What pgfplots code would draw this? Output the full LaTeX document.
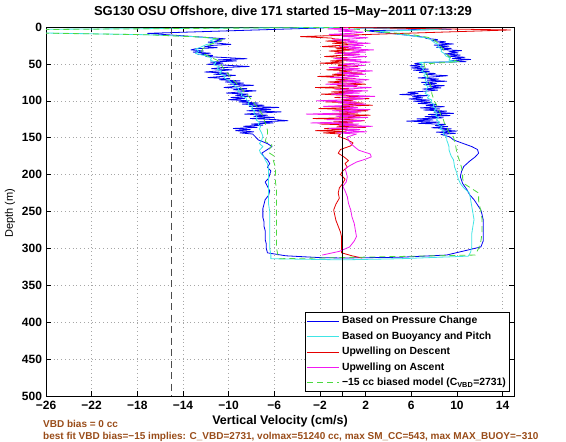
\documentclass[border=0pt]{standalone}
\usepackage{fontspec}
\setmainfont{Liberation Sans}
\usepackage{pgfplots}
\pgfplotsset{compat=1.18}
\definecolor{cBlue}{rgb}{0.0,0.0,0.95}
\definecolor{cCyan}{rgb}{0.25,0.9,0.9}
\definecolor{cRed}{rgb}{0.9,0.0,0.0}
\definecolor{cMag}{rgb}{0.95,0.1,0.95}
\definecolor{cGreen}{rgb}{0.3,0.85,0.25}
\definecolor{cBrown}{rgb}{0.6,0.3,0.1}
\begin{document}
\begin{tikzpicture}[x=1pt,y=1pt]
\useasboundingbox (-46,-46) rectangle (520,396);
\begin{axis}[
  at={(0,0)}, anchor=south west,
  scale only axis, width=468pt, height=369pt,
  xmin=-26, xmax=15, ymin=0, ymax=500, y dir=reverse,
  xtick={-26,-22,-18,-14,-10,-6,-2,2,6,10,14},
  xticklabels={−26,−22,−18,−14,−10,−6,−2,2,6,10,14},
  ytick={0,50,100,150,200,250,300,350,400,450,500},
  yticklabels={0,50,100,150,200,250,300,350,400,450,500},
  tick label style={font=\bfseries\fontsize{12}{14}\selectfont},
  xticklabel style={yshift=-1.5pt},
  yticklabel style={xshift=-0.5pt},
  tick align=inside, major tick length=5pt,
  every tick/.style={black, line width=0.6pt},
  axis line style={line width=0.8pt},
  grid=major,
  major grid style={gray!70, line width=0.5pt, dash pattern=on 0.8pt off 3pt},
  clip=true,
  legend cell align=left,
  legend style={at={(0.991,0.011)}, anchor=south east,
    font=\bfseries\fontsize{10.4}{12}\selectfont,
    line width=0.7pt, inner sep=1pt,
    nodes={text height=7.5pt, text depth=2.2pt, inner ysep=2.85pt, inner xsep=2.5pt}},
  legend image code/.code={\draw[#1, line width=1pt] (0pt,0pt) -- (32pt,0pt);},
  every axis plot/.append style={line width=0.8pt, line join=round},
]
% Based on Pressure Change
\addplot[cBlue] coordinates {
(-0.3,0.5) (-17.1,8.6) (-14.9,11) (-12.5,13.5) (-10.3,16)
(-11.2,17.5) (-10.6,19) (-11.8,20.5) (-10.9,22) (-9.8,23.5) (-11.5,25) (-12.1,26.5) (-11.0,28) (-12.9,29.5)
(-13.3,31) (-12.2,32.5) (-13.1,34) (-11.6,35.5) (-12.7,37) (-11.4,38.5) (-12.0,40) (-10.2,41.5) (-8.4,43)
(-10.9,44.5) (-9.3,46) (-11.6,47.5) (-10.5,49) (-11.9,50.5) (-10.0,52) (-8.2,53.5) (-10.6,55) (-11.5,56.5)
(-9.7,58) (-10.9,59.5) (-12.1,61) (-10.0,62.5) (-11.3,64) (-9.4,65.5) (-10.6,67) (-11.8,68.5) (-9.9,70)
(-10.8,71.5) (-9.0,73) (-10.3,74.5) (-8.7,76) (-9.9,77.5) (-7.8,79) (-9.5,80.5) (-10.4,82) (-8.4,83.5)
(-9.6,85) (-7.6,86.5) (-9.0,88) (-10.2,89.5) (-8.3,91) (-9.4,92.5) (-8.0,94) (-9.8,95.5) (-8.6,97) (-10.0,98.5)
(-8.2,100) (-9.1,101.5) (-7.4,103) (-8.8,104.5) (-6.9,106) (-8.2,107.5) (-5.6,109) (-7.9,110.5) (-6.3,112)
(-8.4,113.5) (-5.4,115) (-7.2,116.5) (-8.6,118) (-6.6,119.5) (-7.8,121) (-6.0,122.5) (-8.1,124) (-5.9,125.5)
(-4.8,127) (-7.3,128.5) (-6.1,130) (-8.0,131.5) (-7.0,133) (-8.7,134.5) (-7.5,136) (-9.6,137.5) (-8.1,139)
(-9.4,140.5) (-7.8,142) (-9.0,143.5) (-7.9,145)
(-7.7,148) (-7.4,153) (-6.6,158) (-6.2,162) (-6.6,166) (-7.1,171) (-6.9,176) (-6.6,180) (-6.4,185) (-6.6,190)
(-6.3,195) (-6.4,200) (-6.5,205) (-6.8,210) (-6.6,216) (-6.4,222) (-6.5,228) (-6.8,234) (-6.9,240) (-7.0,246)
(-7.0,252) (-7.0,258) (-6.9,264) (-6.9,270) (-6.8,276) (-6.8,282) (-6.8,288) (-6.7,294) (-6.7,300) (-6.6,306)
(-5.0,310) (-2,312.5) (0,313) (5,312) (9.1,309)
(12.1,298) (12.3,290) (12.3,280) (12.3,270) (12.3,261) (12.2,254) (12.1,248) (11.8,241) (11.5,234) (11.1,227)
(10.9,221) (10.5,212) (10.3,203) (10.4,196) (10.6,189) (11.1,182) (11.6,176) (11.9,171) (11.8,166) (11.3,162)
(10.4,157) (9.7,153) (9.4,149)
(8.6,145.5) (9.9,144) (8.2,142.5) (10.0,141) (8.7,139.5) (9.5,138) (7.8,136.5) (9.2,135) (8.1,133.5) (9.0,132)
(6.6,130.5) (8.4,129) (5.6,127.5) (7.9,126) (6.5,124.5) (8.8,123) (7.2,121.5) (9.4,120) (7.5,118.5) (9.7,117)
(8.0,115.5) (9.1,114) (7.1,112.5) (8.5,111) (6.8,109.5) (8.9,108) (7.3,106.5) (8.2,105) (6.6,103.5) (7.8,102)
(6.2,100.5) (7.6,99) (5.8,97.5) (7.0,96) (6.1,94.5) (7.4,93) (5.0,91.5) (6.6,90) (5.7,88.5) (7.2,87) (8.3,85.5)
(7.0,84) (8.6,82.5) (7.6,81) (8.9,79.5) (7.1,78) (8.2,76.5) (6.9,75) (9.1,73.5) (7.4,72) (8.4,70.5) (6.6,69)
(8.0,67.5) (9.2,66) (7.3,64.5) (8.1,63) (6.7,61.5) (7.6,60) (6.2,58.5) (7.5,57) (6.0,55.5) (7.1,54) (5.9,52.5)
(6.9,51) (6.3,49.5) (7.0,48) (10.8,47) (9.4,45.5) (11.2,44) (9.6,42.5) (10.7,41) (9.2,39.5) (10.3,38) (8.9,36.5)
(10.1,35) (9.3,33.5) (10.4,32) (8.6,30.5) (9.5,29) (8.2,27.5) (9.3,26) (8.0,24.5) (9.7,23) (8.4,21.5) (9.0,20)
(7.8,18.5) (8.3,17) (7.3,15.5) (7.2,14) (5.6,11) (3.8,8) (2,5) (9.5,3) (0.5,1)
};
\addlegendentry{Based on Pressure Change}
% Based on Buoyancy and Pitch
\addplot[cCyan] coordinates {
(-0.3,0.5) (-40,4.5) (-17.4,10.4) (-13,13) (-11,16)
(-11.6,18) (-11.2,21) (-12.0,24) (-12.4,27) (-12.9,30) (-12.6,33) (-12.9,36) (-12.0,39) (-11.5,42) (-11.6,45)
(-11.1,48) (-11.3,51) (-10.8,54) (-11.0,57) (-10.6,60) (-10.8,63) (-10.3,66) (-10.4,69) (-10.0,72) (-9.8,75)
(-9.6,78) (-9.4,81) (-9.1,84) (-9.2,87) (-8.8,90) (-8.9,93) (-8.5,96) (-8.4,99) (-8.2,102) (-8.3,105) (-7.9,108)
(-8.0,111) (-7.7,114) (-7.8,117) (-7.6,120) (-7.5,123) (-7.6,126) (-7.3,129) (-7.4,132) (-7.2,135) (-7.3,138)
(-7.2,141) (-7.1,144) (-7.0,148) (-7.1,153) (-7.3,158) (-7.0,162) (-7.3,167) (-7.2,171) (-6.9,176) (-6.8,180)
(-6.6,185) (-6.5,192) (-6.5,200) (-6.5,210) (-6.5,220) (-6.5,230) (-6.5,240) (-6.4,250) (-6.4,260) (-6.4,270)
(-6.4,280) (-6.4,290) (-6.4,300) (-6.3,308) (-6.3,314) (0,315.5) (5,314) (11.0,310.5)
(11.2,305) (11.3,298) (11.3,290) (11.3,280) (11.4,270) (11.5,261) (11.4,252) (11.3,243) (11.2,234) (11.1,225)
(10.6,218) (10.3,212) (10.1,205) (10.0,198) (9.8,190) (9.7,180) (9.5,175) (9.4,171) (9.3,166) (9.3,162) (9.2,157)
(9.1,153) (9.1,149) (8.8,145) (8.9,141) (8.5,138) (8.7,135) (8.3,132) (8.5,129) (8.2,126) (8.4,123) (8.1,120)
(8.3,117) (8.0,114) (8.2,111) (7.9,108) (8.0,105) (7.7,102) (7.8,99) (7.4,96) (7.6,93) (7.2,90) (7.4,87) (7.3,84)
(7.5,81) (7.2,78) (7.4,75) (7.2,72) (7.4,69) (7.1,66) (7.3,63) (6.9,60) (7.1,57) (6.8,54) (7.0,51) (6.7,48)
(10.0,47) (9.3,45) (9.4,42) (9.0,39) (8.9,36) (8.6,33) (8.7,30) (8.3,27) (8.4,24) (8.0,21) (7.8,18) (7.4,15)
(6.0,12) (4.5,9) (3.0,6) (9.0,3) (0.3,1)
};
\addlegendentry{Based on Buoyancy and Pitch}
% Upwelling on Descent
\addplot[cRed] coordinates {
(0,0.5) (14.7,4) (-3.7,13) (-1.0,15)
(-0.8,16) (0.6,17.5) (-1.5,19) (0.3,20.5) (-0.9,22) (1.2,23.5) (-0.4,25) (-1.8,26.5) (0.5,28) (-0.6,29.5)
(1.0,31) (-1.2,32.5) (0.2,34) (-0.7,35.5) (1.4,37) (-0.3,38.5) (-1.6,40) (0.4,41.5) (-0.5,43) (0.9,44.5)
(-1.1,46) (0.1,47.5) (-2.0,49) (0.6,50.5) (-0.4,52) (1.3,53.5) (-0.8,55) (0.2,56.5) (-1.4,58) (0.8,59.5)
(-0.3,61) (1.7,62.5) (-0.9,64) (0.4,65.5) (-2.2,67) (0.0,68.5) (1.1,70) (-0.6,71.5) (0.7,73) (-1.3,74.5)
(0.3,76) (2.0,77.5) (-0.5,79) (1.2,80.5) (-2.4,82) (0.5,83.5) (-0.2,85) (1.6,86.5) (-1.0,88) (0.8,89.5)
(-1.9,91) (0.2,92.5) (1.4,94) (-0.7,95.5) (2.3,97) (-0.1,98.5) (0.9,100) (-1.5,101.5) (1.8,103) (0.0,104.5)
(2.6,106) (-0.4,107.5) (1.0,109) (-2.1,110.5) (0.7,112) (2.2,113.5) (-0.3,115) (1.3,116.5) (-1.2,118)
(2.4,119.5) (0.1,121) (1.5,122.5) (-2.6,124) (0.6,125.5) (1.9,127) (-0.8,128.5) (0.9,130) (-2.0,131.5)
(1.2,133) (-0.5,134.5) (2.0,136) (-1.6,137.5) (0.4,139) (-2.4,140.5) (0.3,142) (-1.7,143.5) (-0.2,145)
(-0.4,148) (0.3,152) (0.9,157) (0.7,161) (-0.2,166) (-0.4,171) (0.1,176) (0.5,181) (0.2,185) (0.4,190)
(0.0,195) (-0.2,200) (0.2,206) (0.0,212) (-0.3,218) (-0.4,225) (-0.3,232) (-0.6,240) (-0.8,248) (-0.7,255)
(-0.6,262) (-0.4,270) (-0.2,278) (-0.1,285) (-0.1,292) (-0.1,300) (-0.1,306) (0.8,310) (1.7,313)
};
\addlegendentry{Upwelling on Descent}
% Upwelling on Ascent
\addplot[cMag] coordinates {
(-1.8,309) (-0.3,304) (0.6,298) (1.0,290) (1.2,284) (1.1,275) (1.0,266) (0.8,257) (0.7,248) (0.5,239)
(0.4,230) (0.2,222) (0.0,216) (0.3,210) (0.4,203) (0.3,197) (0.2,192) (0.6,188) (1.2,183) (2.0,179) (2.5,176)
(2.4,172) (1.4,167) (1.0,162) (0.7,158) (0.5,153) (0.4,149)
(1.2,145) (-0.5,143.5) (2.1,142) (0.2,140.5) (1.5,139) (-1.2,137.5) (0.9,136) (2.6,134.5) (-0.3,133)
(1.4,131.5) (-2.8,130) (0.6,128.5) (1.8,127) (-1.4,125.5) (0.3,124) (2.2,122.5) (-0.6,121) (1.1,119.5)
(-3.2,118) (0.4,116.5) (1.6,115) (-0.9,113.5) (2.4,112) (0.1,110.5) (1.3,109) (-1.7,107.5) (0.8,106)
(2.0,104.5) (-0.4,103) (1.2,101.5) (-2.3,100) (0.5,98.5) (1.9,97) (-0.2,95.5) (2.8,94) (0.7,92.5) (-1.0,91)
(1.5,89.5) (0.0,88) (2.2,86.5) (-0.7,85) (1.0,83.5) (2.5,82) (-0.1,80.5) (1.3,79) (-1.5,77.5) (0.6,76)
(1.8,74.5) (-0.3,73) (2.3,71.5) (0.9,70) (-1.1,68.5) (1.4,67) (0.2,65.5) (2.0,64) (-0.5,62.5) (1.1,61)
(2.6,59.5) (0.0,58) (1.5,56.5) (-1.2,55) (0.7,53.5) (1.9,52) (-0.2,50.5) (1.2,49) (2.4,47.5) (0.3,46)
(1.6,44.5) (-0.8,43) (0.9,41.5) (2.1,40) (0.1,38.5) (1.5,37) (-0.6,35.5) (2.0,34) (0.8,32.5) (2.7,31)
(0.4,29.5) (1.6,28) (-0.3,26.5) (1.8,25) (0.5,23.5) (2.4,22) (0.2,20.5) (1.3,19) (-0.9,17.5) (1.0,16)
(2.2,14.5) (0.0,13) (1.4,11.5) (-1.2,10) (0.9,8.5) (1.8,7) (-0.4,5.5) (1.1,4) (-1.3,2.5) (0.5,1)
};
\addlegendentry{Upwelling on Ascent}
% biased model
\addplot[cGreen, dash pattern=on 6pt off 4pt] coordinates {
(-0.3,0.5) (-40,5) (-17,10.5) (-12,14) (-10.5,17)
(-11.0,20) (-11.8,25) (-12.3,30) (-12.4,35) (-11.7,40) (-11.0,45) (-10.7,50) (-10.5,55) (-10.2,60) (-10.0,65)
(-9.7,70) (-9.4,75) (-9.1,80) (-8.8,85) (-8.5,90) (-8.2,95) (-7.9,100) (-7.7,105) (-7.4,110) (-7.2,115)
(-7.0,120) (-6.9,125) (-6.8,130) (-6.7,135) (-6.6,140) (-6.6,145) (-6.7,150) (-6.8,155) (-6.2,160) (-6.4,165)
(-6.5,170) (-6.0,175) (-6.1,180) (-5.9,190) (-5.9,200) (-5.9,210) (-5.8,220) (-5.8,230) (-5.8,240) (-5.8,250)
(-5.8,260) (-5.8,270) (-5.8,280) (-5.8,290) (-5.8,300) (-5.7,308) (-5.6,314) (11.6,309)
(11.9,300) (12.1,290) (12.2,280) (12.2,270) (12.2,260) (12.1,250) (12.0,243) (11.9,235) (11.9,225) (11.2,218)
(10.6,212) (10.5,205) (10.5,198) (10.4,190) (10.2,180) (10.0,171) (9.9,162) (9.8,155) (9.7,149) (9.4,145)
(9.2,140) (9.1,135) (8.9,130) (8.8,125) (8.6,120) (8.5,115) (8.3,110) (8.2,105) (8.0,100) (7.9,95) (7.8,90)
(7.8,85) (7.7,80) (7.6,75) (7.5,70) (7.4,65) (7.3,60) (7.2,55) (7.1,50) (10.2,47) (9.7,45) (9.3,40) (9.0,35)
(8.8,30) (8.5,25) (8.2,20) (7.8,15) (6.0,10) (3.0,6) (0.5,2)
};
\addlegendentry{−15 cc biased model (C\textsubscript{VBD}=2731)}
% reference lines
\addplot[forget plot, black!70, line width=1.1pt, dash pattern=on 7pt off 4.5pt] coordinates {(-15,0) (-15,500)};
\addplot[forget plot, black, line width=0.7pt] coordinates {(0,0) (0,500)};
\end{axis}
\node[font=\bfseries\fontsize{13}{15}\selectfont] at (237,384) {SG130 OSU Offshore, dive 171 started 15−May−2011 07:13:29};
\node[rotate=90, font=\fontsize{11}{12}\selectfont] at (-36,183) {Depth (m)};
\node[font=\bfseries\fontsize{12.5}{14}\selectfont] at (234,-25.5) {Vertical Velocity (cm/s)};
\node[anchor=west, text=cBrown, font=\bfseries\fontsize{10}{12}\selectfont, inner sep=0pt] at (-3,-28) {VBD bias = 0 cc};
\node[anchor=west, text=cBrown, font=\bfseries\fontsize{10}{12}\selectfont, inner sep=0pt] at (-3,-40.5) {best fit VBD bias=−15 implies: C\_VBD=2731, volmax=51240 cc, max SM\_CC=543, max MAX\_BUOY=−310};
\end{tikzpicture}
\end{document}
